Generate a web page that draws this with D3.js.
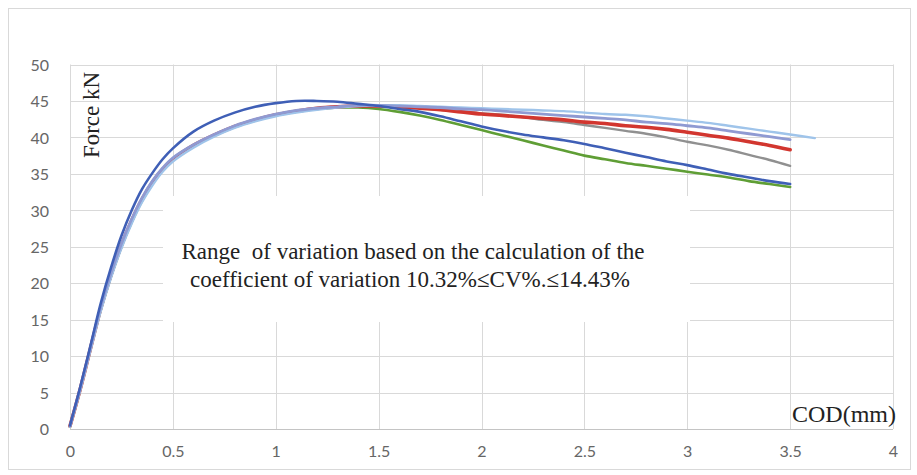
<!DOCTYPE html>
<html>
<head>
<meta charset="utf-8">
<script src="https://cdn.jsdelivr.net/npm/d3@7"></script>
<style>
  html, body { margin: 0; padding: 0; background: #fff; }
  svg { display: block; }
  .serif { font-family: "Liberation Serif", "Times New Roman", serif; }
</style>
</head>
<body>
<svg id="chart" width="917" height="475"></svg>
<script>
// ---- Data ----
const xTicks = [0, 0.5, 1, 1.5, 2, 2.5, 3, 3.5, 4];
const xTickLabels = ["0", "0.5", "1", "1.5", "2", "2.5", "3", "3.5", "4"];
const yTicks = [0, 5, 10, 15, 20, 25, 30, 35, 40, 45, 50];
const yTickLabels = ["0", "5", "10", "15", "20", "25", "30", "35", "40", "45", "50"];

const cod = [0, 0.05, 0.1, 0.15, 0.2, 0.25, 0.3, 0.35, 0.4, 0.45, 0.5,
  0.6, 0.7, 0.8, 0.9, 1.0, 1.1, 1.2, 1.3, 1.4, 1.5,
  1.6, 1.7, 1.8, 1.9, 2.0, 2.1, 2.2, 2.3, 2.4, 2.5,
  2.6, 2.7, 2.8, 2.9, 3.0, 3.1, 3.2, 3.3, 3.4, 3.5];
const codLong = cod.concat([3.62]);

const forceGreen = [0.3, 5.4, 11, 16.4, 21, 25, 28.4, 31.3, 33.6, 35.5, 36.9,
  38.8, 40.3, 41.5, 42.4, 43.1, 43.6, 43.9, 44.1, 44.1, 43.9,
  43.5, 43.0, 42.4, 41.7, 41.0, 40.3, 39.6, 38.9, 38.2, 37.5,
  37.0, 36.5, 36.1, 35.7, 35.3, 34.9, 34.5, 34.0, 33.6, 33.2];
const forceGray = [0.4, 5.5, 11, 16.5, 21.1, 25.1, 28.5, 31.4, 33.7, 35.5, 36.9,
  38.8, 40.2, 41.4, 42.3, 43.0, 43.5, 43.9, 44.1, 44.3, 44.3,
  44.2, 44.0, 43.8, 43.6, 43.3, 43.1, 42.8, 42.4, 42.1, 41.7,
  41.3, 40.9, 40.5, 40.0, 39.4, 38.9, 38.3, 37.6, 36.9, 36.1];
const forceRed = [0.4, 5.5, 11.1, 16.6, 21.2, 25.2, 28.6, 31.5, 33.8, 35.6, 37.0,
  38.9, 40.3, 41.5, 42.4, 43.1, 43.6, 44.0, 44.2, 44.3, 44.3,
  44.2, 44.0, 43.8, 43.5, 43.2, 43.0, 42.8, 42.6, 42.4, 42.1,
  41.9, 41.6, 41.4, 41.1, 40.7, 40.3, 39.9, 39.4, 38.9, 38.3];
const forceSky = [0.3, 5.3, 10.8, 16.2, 20.8, 24.8, 28.2, 31.1, 33.4, 35.3, 36.7,
  38.6, 40.1, 41.3, 42.2, 42.9, 43.4, 43.8, 44.1, 44.3, 44.4,
  44.4, 44.3, 44.2, 44.1, 44.0, 43.9, 43.8, 43.7, 43.6, 43.4,
  43.2, 43.1, 42.9, 42.6, 42.3, 42.0, 41.6, 41.2, 40.8, 40.4, 39.9];
const forceLavender = [0.4, 5.6, 11.2, 16.8, 21.4, 25.4, 28.8, 31.7, 34.0, 35.8, 37.2,
  39.0, 40.4, 41.6, 42.5, 43.2, 43.7, 44.0, 44.2, 44.4, 44.4,
  44.3, 44.2, 44.1, 43.9, 43.8, 43.6, 43.4, 43.2, 43.0, 42.8,
  42.6, 42.4, 42.1, 41.9, 41.6, 41.3, 40.9, 40.5, 40.1, 39.7];
const forceDarkBlue = [0.5, 5.8, 11.5, 17.3, 22.2, 26.5, 30.0, 32.9, 35.1, 37.0, 38.5,
  40.8, 42.3, 43.4, 44.2, 44.7, 45.0, 45.0, 44.9, 44.6, 44.3,
  43.9, 43.5, 42.9, 42.2, 41.5, 40.9, 40.4, 40.0, 39.6, 39.1,
  38.5, 37.9, 37.3, 36.7, 36.2, 35.6, 35.0, 34.5, 34.0, 33.6];

const series = [
  { x: cod, y: forceGreen, color: "#5f9e35", width: 2.6 },
  { x: cod, y: forceGray, color: "#909090", width: 2.4 },
  { x: cod, y: forceRed, color: "#d2362f", width: 3.6 },
  { x: codLong, y: forceSky, color: "#9fc4ea", width: 2.4 },
  { x: cod, y: forceLavender, color: "#8f9ad2", width: 2.8 },
  { x: cod, y: forceDarkBlue, color: "#3f5fb6", width: 2.6 }
];

const annotationLines = [
  "Range\u00a0 of variation based on the calculation of the",
  "coefficient of variation 10.32%\u2264CV%.\u226414.43%"
];

// ---- Drawing ----
const svg = d3.select("#chart");
const W = 917, H = 475;

svg.append("rect").attr("x", 0).attr("y", 0).attr("width", W).attr("height", H).attr("fill", "#fff");
svg.append("rect").attr("x", 8.5).attr("y", 8.5).attr("width", 902).attr("height", 461)
  .attr("fill", "#fff").attr("stroke", "#d9d9d9").attr("stroke-width", 1);

const x = d3.scaleLinear().domain([0, 4]).range([70, 893]);
const y = d3.scaleLinear().domain([0, 50]).range([429, 64.5]);

// gridlines
const grid = svg.append("g");
grid.selectAll("line.h").data(yTicks).join("line")
  .attr("x1", x(0)).attr("x2", x(4))
  .attr("y1", d => Math.round(y(d)) + 0.5).attr("y2", d => Math.round(y(d)) + 0.5)
  .attr("stroke", d => d === 0 ? "#c4c4c4" : "#d9d9d9").attr("stroke-width", 1);
grid.selectAll("line.v").data(xTicks).join("line")
  .attr("x1", d => Math.round(x(d)) + 0.5).attr("x2", d => Math.round(x(d)) + 0.5)
  .attr("y1", y(50)).attr("y2", y(0))
  .attr("stroke", "#d9d9d9").attr("stroke-width", 1);

// white box behind annotation
svg.append("rect").attr("x", 163).attr("y", 196).attr("width", 527).attr("height", 126).attr("fill", "#fff");

// axes tick labels (using d3 axes, domain hidden)
const yAxis = d3.axisLeft(y).tickValues(yTicks).tickFormat((d, i) => yTickLabels[i]).tickSize(0).tickPadding(0);
const gy = svg.append("g").attr("transform", "translate(49,0)").call(yAxis);
gy.select(".domain").remove();
gy.selectAll("text").attr("font-family", "Lato, 'Open Sans', sans-serif").attr("font-size", 16)
  .attr("fill", "#666").attr("dy", "0.36em");

const xAxis = d3.axisBottom(x).tickValues(xTicks).tickFormat((d, i) => xTickLabels[i]).tickSize(0).tickPadding(0);
const gx = svg.append("g").attr("transform", "translate(0,446)").call(xAxis);
gx.select(".domain").remove();
gx.selectAll("text").attr("font-family", "Lato, 'Open Sans', sans-serif").attr("font-size", 16)
  .attr("fill", "#666").attr("dy", "0.71em");

// lines
const line = d3.line().curve(d3.curveCatmullRom.alpha(0.5));
const lg = svg.append("g");
series.forEach(s => {
  const pts = s.x.map((v, i) => [x(v), y(s.y[i])]);
  lg.append("path").attr("d", line(pts)).attr("fill", "none")
    .attr("stroke", s.color).attr("stroke-width", s.width)
    .attr("stroke-linejoin", "round").attr("stroke-linecap", "round");
});

// annotation text
svg.append("text").attr("class", "serif").attr("x", 413).attr("y", 259).attr("text-anchor", "middle")
  .attr("font-size", 23).attr("fill", "#222")
  .text(annotationLines[0]);
svg.append("text").attr("class", "serif").attr("x", 410).attr("y", 287).attr("text-anchor", "middle")
  .attr("font-size", 23).attr("fill", "#222")
  .text(annotationLines[1]);

// axis titles
svg.append("text").attr("class", "serif").attr("transform", "translate(99,115) rotate(-90)")
  .attr("text-anchor", "middle").attr("font-size", 23).attr("fill", "#222")
  .text("Force kN");
svg.append("text").attr("class", "serif").attr("x", 844).attr("y", 422).attr("text-anchor", "middle")
  .attr("font-size", 24).attr("fill", "#222")
  .text("COD(mm)");
</script>
</body>
</html>
